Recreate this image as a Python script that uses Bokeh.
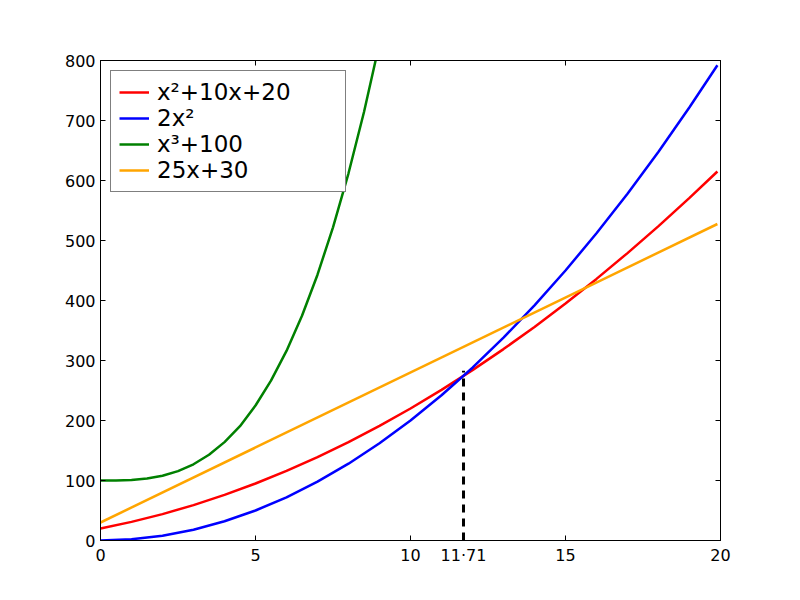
from bokeh.plotting import figure
from bokeh.models import LinearAxis, Range1d, Legend, LegendItem, FixedTicker
from bokeh.embed import file_html
from bokeh.resources import INLINE

# sample positions
x_q = [0, 1, 2, 3, 4, 5, 6, 7, 8, 9, 10, 11, 12, 13, 14, 15, 16, 17, 18, 19, 19.9]
red_y = [20, 31, 44, 59, 76, 95, 116, 139, 164, 191, 220, 251, 284, 319, 356, 395, 436, 479, 524, 571, 615.01]
blue_y = [0, 2, 8, 18, 32, 50, 72, 98, 128, 162, 200, 242, 288, 338, 392, 450, 512, 578, 648, 722, 792.02]
x_c = [0, 0.5, 1, 1.5, 2, 2.5, 3, 3.5, 4, 4.5, 5, 5.5, 6, 6.5, 7, 7.5, 8, 8.5, 9]
green_y = [100, 100.1, 101, 103.4, 108, 115.6, 127, 142.9, 164, 190.6, 225, 266.4, 316, 374.6, 443, 521.9, 612, 714.1, 829]
x_l = [0, 19.9]
orange_y = [30, 527.5]
cross_x = [11.71, 11.71]
cross_y = [0, 283]
cross_label = "11·71"
labels = ["x²+10x+20", "2x²", "x³+100", "25x+30"]
x_ticks = [0, 5, 10, 15, 20]
y_ticks = [0, 100, 200, 300, 400, 500, 600, 700, 800]

p = figure(frame_width=620, frame_height=480, min_border_left=100, min_border_top=60,
           min_border_right=60, min_border_bottom=40,
           x_range=Range1d(0, 20), y_range=Range1d(0, 800),
           output_backend="svg", toolbar_location=None,
           x_axis_location=None, y_axis_location=None)
p.grid.visible = False
p.outline_line_color = "black"
p.outline_line_width = 1
p.background_fill_color = "white"
p.border_fill_color = "white"

def style(ax, show_labels=True):
    ax.major_tick_in = 5
    ax.major_tick_out = 0
    ax.minor_tick_line_color = None
    ax.axis_line_color = "black"
    ax.major_tick_line_color = "black"
    ax.major_label_text_font = "DejaVu Sans"
    ax.major_label_text_font_size = "16px" if show_labels else "0px"
    ax.major_label_text_color = "black" if show_labels else None
    ax.major_label_standoff = 5

bottom = LinearAxis(ticker=FixedTicker(ticks=x_ticks + [cross_x[0]]),
                    major_label_overrides={cross_x[0]: cross_label})
style(bottom)
top = LinearAxis(ticker=FixedTicker(ticks=x_ticks)); style(top, False)
left = LinearAxis(ticker=FixedTicker(ticks=y_ticks)); style(left)
right = LinearAxis(ticker=FixedTicker(ticks=y_ticks)); style(right, False)
p.add_layout(bottom, "below")
p.add_layout(top, "above")
p.add_layout(left, "left")
p.add_layout(right, "right")

lw = 2.5
r1 = p.line(x_q, red_y, line_color="#ff0000", line_width=lw)
r2 = p.line(x_q, blue_y, line_color="#0000ff", line_width=lw)
r3 = p.line(x_c, green_y, line_color="#008000", line_width=lw)
r4 = p.line(x_l, orange_y, line_color="#ffa500", line_width=lw)

p.line(cross_x, cross_y, line_color="black", line_width=3, line_dash="8 6")

legend = Legend(items=[LegendItem(label=l, renderers=[r]) for l, r in zip(labels, [r1, r2, r3, r4])],
                location="top_left")
legend.margin = 10
legend.padding = 8
legend.spacing = 0
legend.border_line_color = "black"
legend.border_line_width = 1
legend.label_text_font = "DejaVu Sans"
legend.label_text_font_size = "23px"
legend.label_text_color = "black"
legend.label_height = 24
legend.label_width = 180
legend.glyph_height = 24
legend.glyph_width = 30
legend.label_standoff = 8
legend.background_fill_alpha = 1
p.add_layout(legend)

open("out.html", "w").write(file_html(p, INLINE))
